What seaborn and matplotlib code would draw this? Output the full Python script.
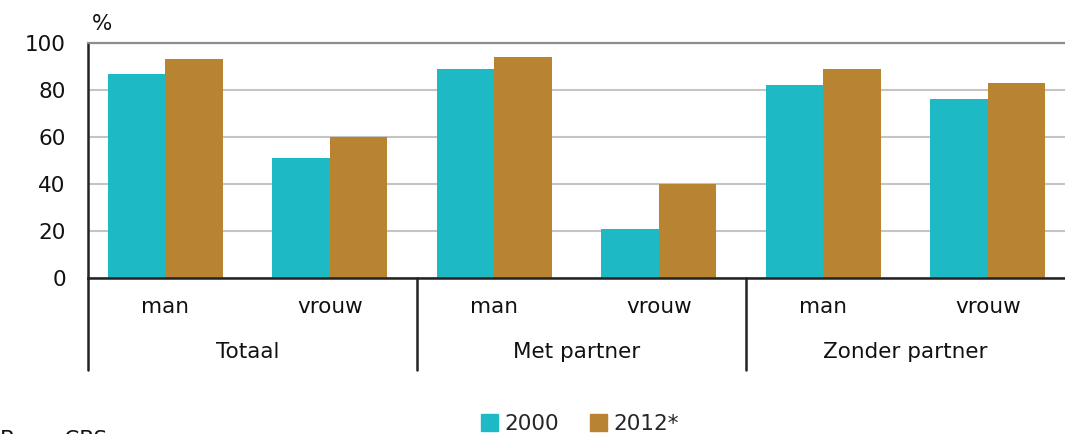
import matplotlib
matplotlib.use("Agg")
import matplotlib.pyplot as plt
import seaborn as sns
import pandas as pd

groups = ["Totaal", "Met partner", "Zonder partner"]
sexes = ["man", "vrouw"]
years = ["2000", "2012*"]
values_2000 = [87, 51, 89, 21, 82, 76]
values_2012 = [93, 60, 94, 40, 89, 83]
colors = ["#1DBAC5", "#B88431"]

cats = [f"{g}|{s}" for g in groups for s in sexes]
df = pd.DataFrame({
    "cat": cats * 2,
    "year": [years[0]] * 6 + [years[1]] * 6,
    "value": values_2000 + values_2012,
})

sns.set_style("white")
plt.rcParams["font.family"] = ["DejaVu Sans"]
FS = 15.5

fig = plt.figure(figsize=(10.65, 4.34), dpi=100)
ax = fig.add_axes([88 / 1065, 1 - 278 / 434, (1075 - 88) / 1065, (278 - 43) / 434])

sns.barplot(data=df, x="cat", y="value", hue="year", order=cats, hue_order=years,
            palette=colors, width=0.7, saturation=1, ax=ax, legend=False, linewidth=0)

ax.set_ylim(0, 100)
ax.set_xlim(-0.47, 5.53)
ax.set_yticks([0, 20, 40, 60, 80, 100])
ax.set_yticklabels(["0", "20", "40", "60", "80", "100"], fontsize=FS, color="#111111")
ax.yaxis.grid(True, color="#C4C4C4", linewidth=1.5)
ax.set_axisbelow(True)
ax.tick_params(axis="y", direction="out", length=6, width=1.5, color="#222222", pad=10)
ax.tick_params(axis="x", length=0, pad=14)
ax.set_xticks(range(6))
ax.set_xticklabels([s for g in groups for s in sexes], fontsize=FS, color="#111111")
ax.set_xlabel("")
ax.set_ylabel("")

for side in ["right"]:
    ax.spines[side].set_visible(False)
ax.spines["top"].set_color("#8C8C8C")
ax.spines["top"].set_linewidth(1.6)
ax.spines["left"].set_color("#222222")
ax.spines["left"].set_linewidth(1.8)
ax.spines["bottom"].set_color("#222222")
ax.spines["bottom"].set_linewidth(1.8)

# group separators below axis
for pos in [-0.47, 1.53, 3.53]:
    ax.plot([pos, pos], [0, -39], color="#222222", linewidth=1.8, clip_on=False,
            transform=ax.transData)
for i, g in enumerate(groups):
    ax.text(2 * i + 0.5, -31.5, g, ha="center", va="center", fontsize=FS, color="#111111")

fig.text(92 / 1065, 1 - 24 / 434, "%", ha="left", va="center", fontsize=FS, color="#111111")
fig.text(0 / 1065, 1 - 440 / 434, "Bron: CBS", ha="left", va="center", fontsize=FS,
         color="#111111")

handles = [plt.Rectangle((0, 0), 1, 1, color=c) for c in colors]
fig.legend(handles, years, loc="center", bbox_to_anchor=(580 / 1065, 1 - 424 / 434),
           ncol=2, frameon=False, fontsize=FS, handlelength=0.8, handleheight=0.8,
           handletextpad=0.3, columnspacing=1.4)

fig.savefig("out.png", dpi=100)
